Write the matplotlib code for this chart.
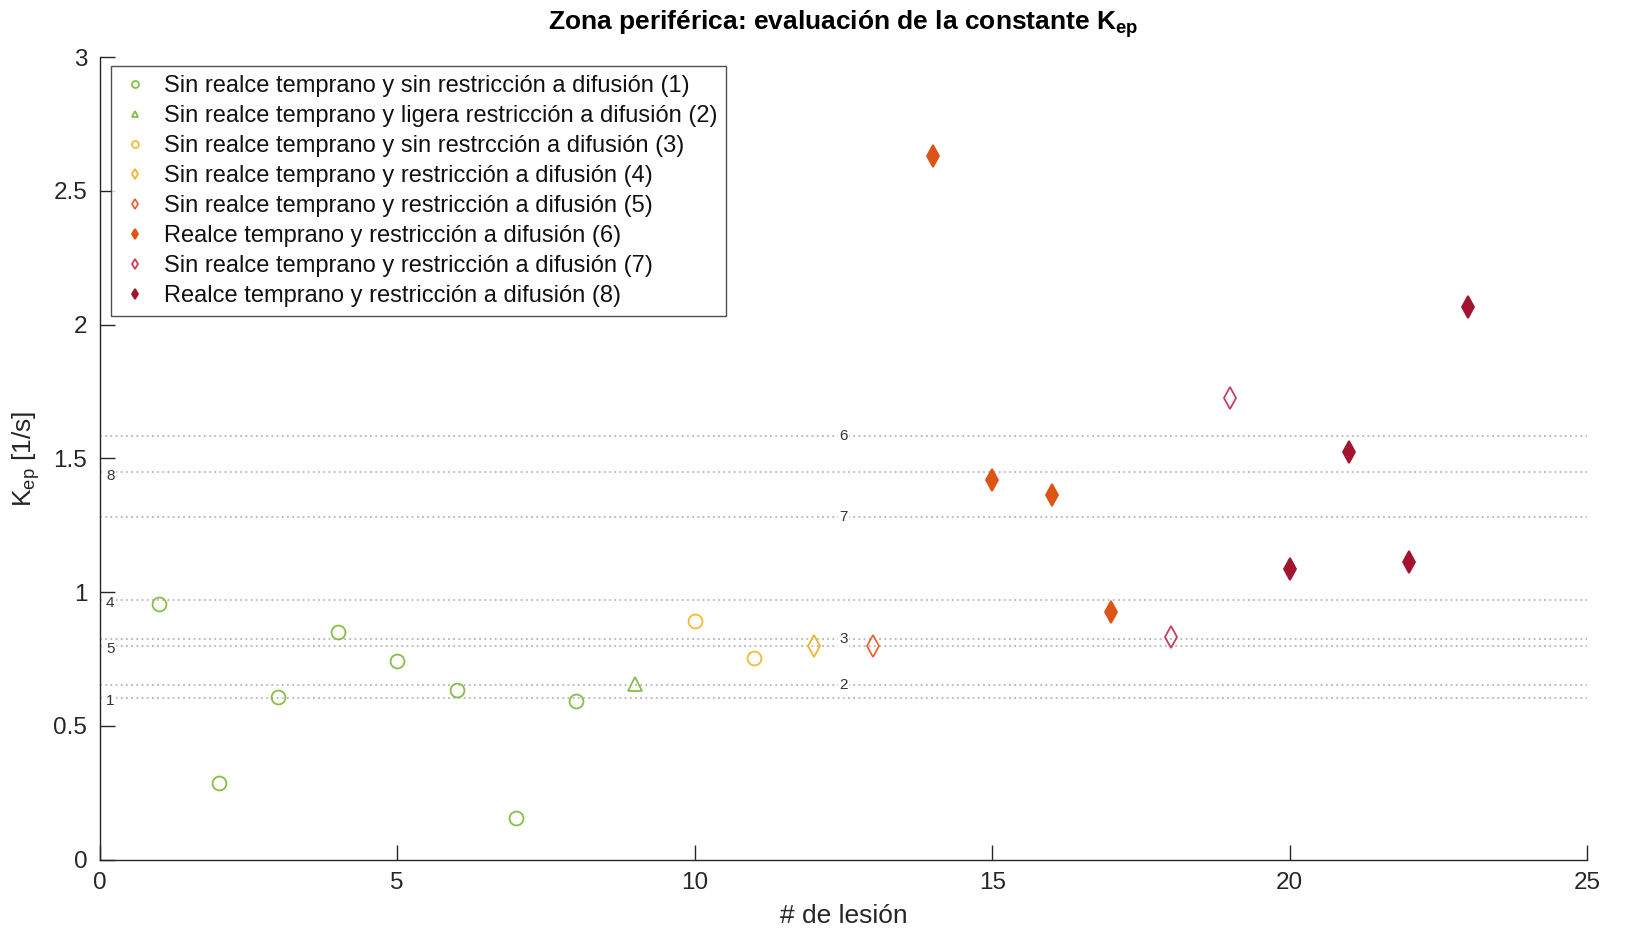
import matplotlib
matplotlib.use("Agg")
import matplotlib.pyplot as plt

plt.rcParams['font.family'] = ['Liberation Sans', 'DejaVu Sans']
plt.rcParams['mathtext.fontset'] = 'custom'
plt.rcParams['mathtext.rm'] = 'Liberation Sans'
plt.rcParams['mathtext.it'] = 'Liberation Sans'
plt.rcParams['mathtext.bf'] = 'Liberation Sans:bold'

# Lesion groups: index, Kep values, legend label, marker, colour, filled
group_labels = [
    "Sin realce temprano y sin restricción a difusión (1)",
    "Sin realce temprano y ligera restricción a difusión (2)",
    "Sin realce temprano y sin restrcción a difusión (3)",
    "Sin realce temprano y restricción a difusión (4)",
    "Sin realce temprano y restricción a difusión (5)",
    "Realce temprano y restricción a difusión (6)",
    "Sin realce temprano y restricción a difusión (7)",
    "Realce temprano y restricción a difusión (8)",
]
lesion_ids = [
    [1, 2, 3, 4, 5, 6, 7, 8],
    [9],
    [10, 11],
    [12],
    [13],
    [14, 15, 16, 17],
    [18, 19],
    [20, 21, 22, 23],
]
kep_values = [
    [0.955, 0.287, 0.609, 0.850, 0.741, 0.633, 0.155, 0.594],
    [0.656],
    [0.893, 0.753],
    [0.800],
    [0.800],
    [2.631, 1.420, 1.362, 0.924],
    [0.831, 1.727],
    [1.087, 1.525, 1.114, 2.065],
]
markers = ['o', '^', 'o', 'd', 'd', 'd', 'd', 'd']
colors = ['#86BE4A', '#86BE4A', '#F7B93C', '#F2B430', '#E2683C',
          '#DD5516', '#C8405E', '#A3152F']
filled = [False, False, False, False, False, True, False, True]

# Reference levels per group (dotted lines) and where their tags sit
level_tags = ['1', '2', '3', '4', '5', '6', '7', '8']
level_values = [0.605, 0.652, 0.823, 0.970, 0.800, 1.583, 1.281, 1.448]
tag_x = [0.18, 12.5, 12.5, 0.18, 0.18, 12.5, 12.5, 0.18]

fig = plt.figure(figsize=(16.28, 9.33), dpi=100)
ax = fig.add_axes([0.0612, 0.0786, 0.9138, 0.8602])

for lvl, tag, tx in zip(level_values, level_tags, tag_x):
    ax.axhline(lvl, color='#AAAAAA', linestyle=(0, (1.2, 2.2)), linewidth=1.1, zorder=1)
    dy = -0.012 if tx < 1 else 0.0
    ax.text(tx, lvl + dy, tag, ha='center', va='center', fontsize=11,
            color='#333333', zorder=2,
            bbox=dict(facecolor='white', edgecolor='none', pad=1.0))

for ids, vals, lab, mk, col, fl in zip(lesion_ids, kep_values, group_labels,
                                        markers, colors, filled):
    ms = 11 if mk == 'd' else 10
    ax.plot(ids, vals, linestyle='none', marker=mk, markersize=ms,
            markeredgecolor=col, markerfacecolor=col if fl else 'none',
            markeredgewidth=1.3, label=lab, zorder=3)

ax.set_xlim(0, 25)
ax.set_ylim(0, 3)
ax.set_xticks([0, 5, 10, 15, 20, 25])
ax.set_yticks([0, 0.5, 1, 1.5, 2, 2.5, 3])
ax.set_yticklabels(['0', '0.5', '1', '1.5', '2', '2.5', '3'])
ax.tick_params(direction='in', length=11, width=1, labelsize=17.5,
               colors='#262626', pad=9)
for s in ['top', 'right']:
    ax.spines[s].set_visible(False)
for s in ['left', 'bottom']:
    ax.spines[s].set_color('#262626')
    ax.spines[s].set_linewidth(1.0)

ax.set_xlabel('# de lesión', fontsize=19, color='#262626', labelpad=7)
ax.set_ylabel(r'K$_{\mathrm{ep}}$ [1/s]', fontsize=19, color='#262626', labelpad=8)
ax.set_title(r'Zona periférica: evaluación de la constante K$_{\mathbf{ep}}$',
             fontsize=19, fontweight='bold', pad=20)

leg = ax.legend(loc='upper left', bbox_to_anchor=(0.0076, 0.989), fontsize=17,
                markerscale=0.5, frameon=True, fancybox=False,
                edgecolor='#262626', handlelength=1.3, handletextpad=0.55,
                labelspacing=0.34, borderpad=0.38, borderaxespad=0)
leg.get_frame().set_linewidth(1.0)
for t in leg.get_texts():
    t.set_color('#111111')

fig.savefig('out.png', dpi=100)
